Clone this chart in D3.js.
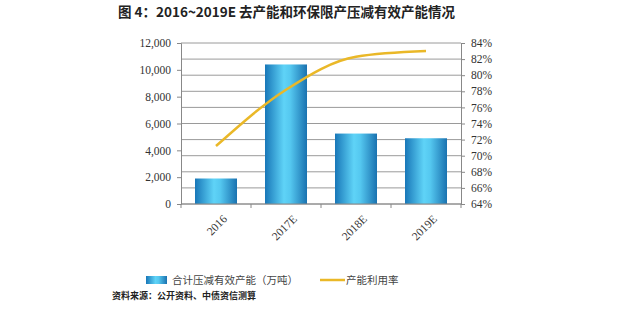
<!DOCTYPE html>
<html>
<head>
<meta charset="utf-8">
<script src="https://cdn.jsdelivr.net/npm/d3@7"></script>
<style>
body { margin: 0; background: #fff; }
</style>
</head>
<body>
<div id="chart"></div>
<script>
// data
var categories = ["2016", "2017E", "2018E", "2019E"]
var capacityCut = [1900, 10400, 5250, 4900]   // 万吨
var utilization = [71.2, 78.2, 82.3, 83.0]     // %
var leftTicks = [0, 2000, 4000, 6000, 8000, 10000, 12000]
var rightTicks = [64, 66, 68, 70, 72, 74, 76, 78, 80, 82, 84]

var W = 640, H = 316
var margin = {top: 43, right: 179, bottom: 112, left: 181},
    width = W - margin.left - margin.right,
    height = H - margin.top - margin.bottom

var svg = d3.select("#chart")
  .append("svg")
  .attr("width", W)
  .attr("height", H)

var defs = svg.append("defs")
var grad = defs.append("linearGradient")
  .attr("id", "barGrad")
  .attr("x1", "0%").attr("x2", "100%").attr("y1", "0%").attr("y2", "0%")
grad.append("stop").attr("offset", "0%").attr("stop-color", "#1877b8")
grad.append("stop").attr("offset", "45%").attr("stop-color", "#5fd3f7")
grad.append("stop").attr("offset", "60%").attr("stop-color", "#55c8f0")
grad.append("stop").attr("offset", "100%").attr("stop-color", "#1a72b0")

// title
svg.append("text")
  .attr("x", 118).attr("y", 17)
  .style("font-family", "'Noto Sans CJK SC', 'Liberation Serif', serif")
  .style("font-weight", "bold")
  .style("font-size", "13.5px")
  .style("fill", "#222")
  .text("图 4：2016~2019E 去产能和环保限产压减有效产能情况")

var g = svg.append("g")
  .attr("transform", "translate(" + margin.left + "," + margin.top + ")")

var x = d3.scaleBand()
  .domain(categories)
  .range([0, width])
  .paddingInner(0.4)
  .paddingOuter(0.2)

var xc = d3.scaleBand().domain(categories).range([0, width])

var y = d3.scaleLinear().domain([0, 12000]).range([height, 0])
var y2 = d3.scaleLinear().domain([64, 84]).range([height, 0])

// grid lines follow the right axis
g.append("g")
  .selectAll("line")
  .data(rightTicks)
  .enter()
  .append("line")
    .attr("x1", 0).attr("x2", width)
    .attr("y1", function(d) { return y2(d) })
    .attr("y2", function(d) { return y2(d) })
    .attr("stroke", "#9a9a9a")
    .attr("stroke-width", 1)

// bars
g.append("g")
  .selectAll("rect")
  .data(capacityCut)
  .enter()
  .append("rect")
    .attr("x", function(d, i) { return x(categories[i]) })
    .attr("y", function(d) { return y(d) })
    .attr("width", x.bandwidth())
    .attr("height", function(d) { return height - y(d) })
    .attr("fill", "url(#barGrad)")

// line
var line = d3.line()
  .x(function(d, i) { return xc(categories[i]) + xc.bandwidth() / 2 })
  .y(function(d) { return y2(d) })
  .curve(d3.curveMonotoneX)

g.append("path")
  .datum(utilization)
  .attr("d", line)
  .attr("fill", "none")
  .attr("stroke", "#eab828")
  .attr("stroke-width", 2.5)

var tickFont = "'Liberation Serif', 'Times New Roman', serif"

// left axis
var leftAxis = g.append("g")
  .call(d3.axisLeft(y).tickValues(leftTicks).tickSize(4).tickPadding(6)
    .tickFormat(d3.format(",")))
leftAxis.select(".domain").attr("stroke", "#888")
leftAxis.selectAll(".tick line").attr("stroke", "#888")
leftAxis.selectAll("text")
  .style("font-family", tickFont).style("font-size", "11.5px").style("fill", "#333")

// right axis
var rightAxis = g.append("g")
  .attr("transform", "translate(" + width + ",0)")
  .call(d3.axisRight(y2).tickValues(rightTicks).tickSize(4).tickPadding(6)
    .tickFormat(function(d) { return d + "%" }))
rightAxis.select(".domain").attr("stroke", "#888")
rightAxis.selectAll(".tick line").attr("stroke", "#888")
rightAxis.selectAll("text")
  .style("font-family", tickFont).style("font-size", "11.5px").style("fill", "#333")

// bottom axis: ticks between categories
var bottom = g.append("g")
  .attr("transform", "translate(0," + height + ")")
bottom.append("line")
  .attr("x1", 0).attr("x2", width)
  .attr("stroke", "#888")
bottom.selectAll(".sep")
  .data(d3.range(categories.length + 1))
  .enter()
  .append("line")
    .attr("class", "sep")
    .attr("x1", function(i) { return i * xc.step() })
    .attr("x2", function(i) { return i * xc.step() })
    .attr("y1", 0).attr("y2", 4)
    .attr("stroke", "#888")
bottom.selectAll(".lbl")
  .data(categories)
  .enter()
  .append("text")
    .attr("class", "lbl")
    .attr("transform", function(d) {
      return "translate(" + (xc(d) + xc.bandwidth() / 2 + 6) + ",10) rotate(-45)"
    })
    .attr("text-anchor", "end")
    .attr("dy", "0.7em")
    .style("font-family", tickFont).style("font-size", "11.5px").style("fill", "#333")
    .text(function(d) { return d })

// legend
var legend = svg.append("g")
var legFont = "'Noto Sans CJK SC', sans-serif"
legend.append("rect")
  .attr("x", 146).attr("y", 276).attr("width", 21).attr("height", 8)
  .attr("fill", "url(#barGrad)")
legend.append("text")
  .attr("x", 172).attr("y", 284)
  .style("font-family", legFont).style("font-size", "10.5px").style("fill", "#444")
  .text("合计压减有效产能（万吨）")
legend.append("line")
  .attr("x1", 320).attr("x2", 345).attr("y1", 280).attr("y2", 280)
  .attr("stroke", "#eab828").attr("stroke-width", 2.5)
legend.append("text")
  .attr("x", 346).attr("y", 284)
  .style("font-family", legFont).style("font-size", "10.5px").style("fill", "#444")
  .text("产能利用率")

// source
svg.append("text")
  .attr("x", 112).attr("y", 299)
  .style("font-family", legFont).style("font-weight", "bold")
  .style("font-size", "9px").style("fill", "#222")
  .text("资料来源：公开资料、中债资信测算")
</script>
</body>
</html>
